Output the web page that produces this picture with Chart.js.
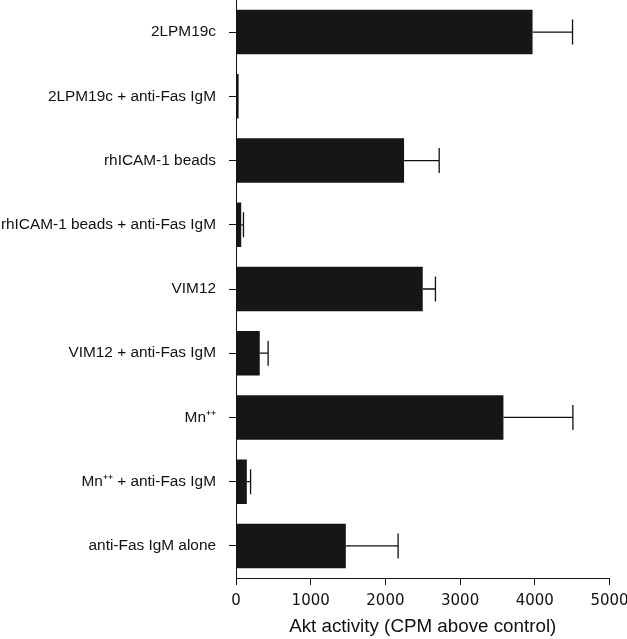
<!DOCTYPE html>
<html>
<head>
<meta charset="utf-8">
<script src="https://cdn.jsdelivr.net/npm/chart.js@4/dist/chart.umd.min.js"></script>
<style>
  html, body { margin: 0; padding: 0; background: #ffffff; }
  #wrap { position: relative; width: 627px; height: 639px; }
</style>
</head>
<body>
<div id="wrap"><canvas id="c"></canvas></div>
<script>
const categories = [
  "2LPM19c",
  "2LPM19c + anti-Fas IgM",
  "rhICAM-1 beads",
  "rhICAM-1 beads + anti-Fas IgM",
  "VIM12",
  "VIM12 + anti-Fas IgM",
  "Mn\u207A\u207A",
  "Mn\u207A\u207A + anti-Fas IgM",
  "anti-Fas IgM alone"
];
const aktActivity = [3970, 35, 2250, 70, 2500, 318, 3580, 145, 1470];
const aktError    = [535, 0, 470, 30, 170, 112, 930, 50, 700];
const xTicks = [0, 1000, 2000, 3000, 4000, 5000];
const xTitle = "Akt activity (CPM above control)";

const errorBarPlugin = {
  id: 'errorBars',
  afterDatasetsDraw(chart) {
    const ctx = chart.ctx;
    const xs = chart.scales.x, ys = chart.scales.y;
    ctx.save();
    ctx.strokeStyle = '#111111';
    ctx.lineWidth = 1.3;
    aktActivity.forEach((v, i) => {
      const e = aktError[i];
      if (!e) return;
      const x0 = xs.getPixelForValue(v);
      const x1 = xs.getPixelForValue(v + e);
      const y = ys.getPixelForValue(i);
      ctx.beginPath();
      ctx.moveTo(x0, y);
      ctx.lineTo(x1, y);
      ctx.moveTo(x1, y - 12.5);
      ctx.lineTo(x1, y + 12.5);
      ctx.stroke();
    });
    ctx.restore();
  }
};

new Chart(document.getElementById('c'), {
  type: 'bar',
  data: {
    labels: categories,
    datasets: [{
      data: aktActivity,
      backgroundColor: '#161616',
      borderWidth: 0,
      barPercentage: 0.693,
      categoryPercentage: 1.0
    }]
  },
  options: {
    indexAxis: 'y',
    responsive: true,
    maintainAspectRatio: false,
    animation: false,
    layout: { padding: { left: 0, right: 0, top: 0, bottom: 0 } },
    plugins: { legend: { display: false }, tooltip: { enabled: false } },
    scales: {
      x: {
        type: 'linear',
        min: 0,
        max: 5000,
        afterBuildTicks(scale) { scale.ticks = xTicks.map(v => ({ value: v })); },
        ticks: {
          color: '#111111',
          padding: 7,
          font: { family: 'DejaVu Sans', size: 15 },
          maxRotation: 0,
          callback: (v) => String(v)
        },
        grid: { display: true, drawOnChartArea: false, drawTicks: true, tickLength: 7, color: '#111111', lineWidth: 1 },
        border: { display: true, color: '#111111', width: 1 },
        title: {
          display: true,
          text: xTitle,
          color: '#111111',
          font: { family: 'Liberation Sans', size: 18.8 },
          padding: { top: 1, bottom: 1 }
        },
        afterFit(scale) {
          scale.height = 61;
          scale.paddingRight = 17.5;
          scale.paddingLeft = 0;
        }
      },
      y: {
        type: 'category',
        offset: true,
        ticks: {
          color: '#111111',
          padding: 13,
          font: { family: 'Liberation Sans', size: 15.4 }
        },
        grid: { display: true, offset: false, drawOnChartArea: false, drawTicks: true, tickLength: 7, color: '#111111', lineWidth: 1 },
        border: { display: true, color: '#111111', width: 1 },
        afterFit(scale) {
          scale.width = 236;
          scale.paddingTop = 0;
          scale.paddingBottom = 0;
        }
      }
    }
  },
  plugins: [errorBarPlugin]
});
</script>
</body>
</html>
